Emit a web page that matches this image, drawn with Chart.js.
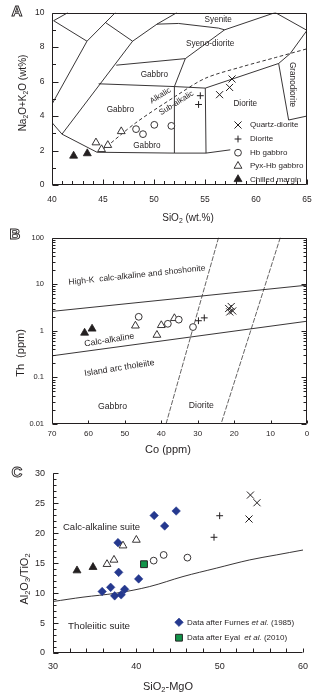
<!DOCTYPE html>
<html>
<head>
<meta charset="utf-8">
<script src="https://cdn.jsdelivr.net/npm/chart.js@4.4.0/dist/chart.umd.min.js"></script>
<style>
  html, body { margin: 0; padding: 0; background: #fff; }
  body { width: 336px; height: 695px; position: relative; overflow: hidden; }
  canvas { position: absolute; left: 0; }
  #cA { top: 0; }
  #cB { top: 225px; }
  #cC { top: 460px; }
</style>
</head>
<body>
<canvas id="cA" width="336" height="225"></canvas>
<canvas id="cB" width="336" height="235"></canvas>
<canvas id="cC" width="336" height="235"></canvas>
<script>
// ---------- A: SiO2 vs Na2O+K2O ----------
const aTicksX = [40, 45, 50, 55, 60, 65];
const aTicksY = [0, 2, 4, 6, 8, 10];
const aQtzDioX = [57.65, 57.41, 56.43];
const aQtzDioY = [6.15, 5.66, 5.24];
const aDioX = [54.54, 54.37];
const aDioY = [5.18, 4.67];
const aHbGabX = [48.24, 48.92, 50.03, 51.7];
const aHbGabY = [3.24, 2.95, 3.49, 3.43];
const aPyxX = [44.31, 45.47, 44.86, 46.79];
const aPyxY = [2.46, 2.31, 2.07, 3.11];
const aChillX = [42.12, 43.46];
const aChillY = [1.69, 1.83];
// field boundaries (SiO2, alkalis)
const aFieldLines = [
  [[41.57, 10], [40.16, 9.53], [43.43, 8.34], [40, 4.69]],
  [[46.21, 10], [43.43, 8.34]],
  [[45.23, 9.43], [47.9, 8.34], [40.98, 2.95]],
  [[40, 3.62], [40.98, 2.95], [44.41, 1.9], [52.0, 1.85], [55.1, 1.85], [57.48, 2.04]],
  [[47.9, 8.34], [50.29, 9.33], [52.25, 10]],
  [[50.29, 9.33], [52.41, 9.37], [56.33, 9.1], [56.92, 9.0]],
  [[46.3, 6.95], [53.07, 7.33], [56.92, 9.0], [61.89, 10]],
  [[61.89, 10], [65, 8.97]],
  [[65, 8.97], [63.35, 7.62], [62.22, 7.05]],
  [[44.57, 5.87], [52.0, 5.71], [55.03, 5.62], [62.22, 7.05]],
  [[52.0, 1.85], [52.0, 5.71], [53.07, 7.33]],
  [[55.1, 1.85], [55.03, 5.62]],
  [[62.22, 7.05], [63.2, 3.77], [65, 4.0]]
];
const aAlkalicLine = [[44.9, 2.0], [48.2, 3.6], [52.09, 5.14], [55.03, 6.19], [58.63, 6.86], [61.89, 7.39], [65, 7.9]];

// ---------- B: Co vs Th ----------
const bTicksX = [70, 60, 50, 40, 30, 20, 10, 0];
const bTicksY = [0.01, 0.1, 1, 10, 100];
const bQtzDioCo = [21.5, 20.8, 20.4, 21.2];
const bQtzDioTh = [3.0, 3.31, 2.66, 2.53];
const bDioCo = [29.8, 28.2];
const bDioTh = [1.64, 1.89];
const bHbGabCo = [46.2, 38.2, 35.2, 31.3];
const bHbGabTh = [1.99, 1.41, 1.73, 1.2];
const bPyxCo = [47.1, 41.2, 40.0, 36.4];
const bPyxTh = [1.28, 0.81, 1.31, 1.85];
const bChillCo = [61.05, 59.0];
const bChillTh = [0.9, 1.1];
const bSeriesLines = [[[70, 2.6], [0, 9.5]], [[70, 0.29], [0, 1.6]]];
const bRockLines = [[[24.27, 100], [38.7, 0.01]], [[7.33, 100], [23.6, 0.01]]];

// ---------- C: SiO2-MgO vs Al2O3/TiO2 ----------
const cTicksX = [30, 40, 50, 60];
const cTicksY = [0, 5, 10, 15, 20, 25, 30];
const cFurnesX = [37.8, 42.14, 44.78, 43.4, 37.88, 40.28, 35.9, 36.92, 37.4, 38.18, 38.6];
const cFurnesY = [18.43, 22.97, 23.72, 21.22, 13.47, 12.38, 10.27, 10.97, 9.55, 9.72, 10.63];
const cEyalX = [40.92];
const cEyalY = [14.83];
const cChillX = [32.88, 34.8];
const cChillY = [13.77, 14.33];
const cPyxX = [36.48, 37.32, 38.4, 40.0];
const cPyxY = [14.83, 15.55, 17.93, 18.88];
const cHbGabX = [42.08, 43.28, 46.13];
const cHbGabY = [15.43, 16.38, 15.93];
const cDioX = [49.32, 50.0];
const cDioY = [19.33, 22.93];
const cQtzDioX = [53.69, 54.48, 53.52];
const cQtzDioY = [26.38, 25.1, 22.38];
const cBoundaryX = [30, 33.6, 37.6, 41.6, 45.6, 49.6, 53.6, 56.8, 60];
const cBoundaryY = [8.6, 9.33, 10.0, 11.1, 12.77, 14.17, 15.55, 16.38, 17.2];

// ---------- look ----------
const FONT = '"Liberation Sans", Arial, sans-serif';
const INK = '#231f20';
Chart.defaults.font.family = FONT;
Chart.defaults.color = INK;

const mkQtzDio = { pointStyle: 'crossRot', radius: 5, stroke: INK, fill: INK, bw: 1 };
const mkDio = { pointStyle: 'cross', radius: 3.4, stroke: INK, fill: INK, bw: 1 };
const mkHbGab = { pointStyle: 'circle', radius: 3.4, stroke: INK, fill: '#fff', bw: 0.9 };
const mkPyx = { pointStyle: 'triangle', radius: 4.5, stroke: INK, fill: '#fff', bw: 0.9 };
const mkChill = { pointStyle: 'triangle', radius: 4.6, stroke: INK, fill: INK, bw: 0.8 };
const mkFurnes = { pointStyle: 'rectRot', radius: 4.3, stroke: '#22358a', fill: '#25398f', bw: 0.5 };
const mkEyal = { pointStyle: 'rect', radius: 4.8, stroke: INK, fill: '#129449', bw: 1 };

const pts = (xs, ys) => xs.map((x, i) => ({ x, y: ys[i] }));
const range = (a, b, s) => { const r = []; for (let v = a; v <= b + 1e-9; v += s) r.push(+v.toFixed(4)); return r; };

function markers(xs, ys, mk) {
  return {
    data: pts(xs, ys), showLine: false, order: 0,
    pointStyle: mk.pointStyle, pointRadius: mk.radius, pointHoverRadius: mk.radius,
    pointBorderColor: mk.stroke, pointBackgroundColor: mk.fill, pointBorderWidth: mk.bw
  };
}
function boundary(line, extra) {
  return Object.assign({
    data: line.map(([x, y]) => ({ x, y })), showLine: true, order: 10,
    pointRadius: 0, borderColor: INK, borderWidth: 0.9, fill: false, tension: 0
  }, extra || {});
}

function axis(min, max, ticks, size, pad, fitKey, fitVal, extra) {
  return Object.assign({
    type: 'linear', min, max,
    afterBuildTicks: s => { s.ticks = ticks.map(v => ({ value: v })); },
    afterFit: s => { s[fitKey] = fitVal; },
    grid: { display: false, drawTicks: false },
    border: { display: false },
    ticks: { padding: pad, font: { size }, color: INK, autoSkip: false, maxRotation: 0, callback: v => String(v) }
  }, extra || {});
}

function drawRich(ctx, parts, x, y, size, align, rot) {
  if (typeof parts === 'string') parts = [[parts, '']];
  const fontOf = k => (k === 'it' ? 'italic ' : '') + (k === 'sub' ? size * 0.68 : size) + 'px ' + FONT;
  let total = 0;
  parts.forEach(p => { ctx.font = fontOf(p[1]); total += ctx.measureText(p[0]).width; });
  ctx.save();
  ctx.translate(x, y);
  ctx.rotate((rot || 0) * Math.PI / 180);
  ctx.fillStyle = INK;
  ctx.textBaseline = 'middle';
  ctx.textAlign = 'left';
  let cx = align === 'left' ? 0 : align === 'right' ? -total : -total / 2;
  parts.forEach(p => {
    ctx.font = fontOf(p[1]);
    ctx.fillText(p[0], cx, p[1] === 'sub' ? size * 0.3 : 0);
    cx += ctx.measureText(p[0]).width;
  });
  ctx.restore();
}

// frame, inward ticks, field names, titles, panel letter, legend
const decor = {
  id: 'decor',
  beforeDatasetsDraw(chart, args, o) {
    const { ctx, scales: { x, y } } = chart;
    (o.labels || []).forEach(l => {
      drawRich(ctx, l.text, x.getPixelForValue(l.x), y.getPixelForValue(l.y), l.size, l.align, l.rot);
    });
  },
  afterDraw(chart, args, o) {
    const { ctx, chartArea: a } = chart;
    ctx.save();
    ctx.strokeStyle = INK;
    ctx.lineWidth = 1;
    const L = Math.round(a.left) + 0.5, R = Math.round(a.right) - 0.5;
    const T = Math.round(a.top) + 0.5, B = Math.round(a.bottom) - 0.5;
    ctx.beginPath();
    if (o.box) {
      ctx.rect(L, T, R - L, B - T);
    } else {
      ctx.moveTo(L, T); ctx.lineTo(L, B); ctx.lineTo(R, B);
    }
    ctx.stroke();
    (o.ticks || []).forEach(t => {
      const s = chart.scales[t.axis];
      ctx.beginPath();
      t.values.forEach(v => {
        const p = Math.round(s.getPixelForValue(v)) + 0.5;
        if (t.side === 'left') { ctx.moveTo(L, p); ctx.lineTo(L + t.len, p); }
        if (t.side === 'right') { ctx.moveTo(R, p); ctx.lineTo(R - t.len, p); }
        if (t.side === 'bottom') { ctx.moveTo(p, B); ctx.lineTo(p, B - t.len); }
      });
      ctx.stroke();
    });
    (o.titles || []).forEach(t => drawRich(ctx, t.text, t.px, t.py, t.size, 'center', t.rot));
    if (o.letter) {
      ctx.font = 'bold 15px ' + FONT;
      ctx.textAlign = 'center';
      ctx.textBaseline = 'middle';
      ctx.lineWidth = 0.9;
      ctx.strokeText(o.letter.text, o.letter.px, o.letter.py);
    }
    if (o.legend) {
      o.legend.rows.forEach(r => {
        ctx.fillStyle = r.mk.fill;
        ctx.strokeStyle = r.mk.stroke;
        ctx.lineWidth = r.mk.bw;
        Chart.helpers.drawPoint(ctx, { pointStyle: r.mk.pointStyle, radius: r.mk.radius, borderWidth: r.mk.bw, rotation: 0 }, o.legend.mx, r.y);
        drawRich(ctx, r.text, o.legend.tx, r.y, o.legend.size, 'left', 0);
      });
    }
    ctx.restore();
  }
};

const common = {
  responsive: false,
  animation: false,
  events: []
};

// ---------- chart A ----------
new Chart(document.getElementById('cA'), {
  type: 'scatter',
  data: {
    datasets: [
      markers(aQtzDioX, aQtzDioY, mkQtzDio),
      markers(aDioX, aDioY, mkDio),
      markers(aHbGabX, aHbGabY, mkHbGab),
      markers(aPyxX, aPyxY, mkPyx),
      markers(aChillX, aChillY, mkChill),
      ...aFieldLines.map(l => boundary(l)),
      boundary(aAlkalicLine, { borderDash: [3.5, 2.5], tension: 0.3 })
    ]
  },
  options: Object.assign({}, common, {
    layout: { padding: { left: 0, right: 29, top: 10, bottom: 0 } },
    scales: {
      x: axis(40, 65, aTicksX, 8.5, 10, 'height', 40),
      y: axis(0, 10, aTicksY, 8.5, 7.5, 'width', 52)
    },
    plugins: {
      legend: { display: false },
      tooltip: { enabled: false },
      decor: {
        box: true,
        ticks: [
          { axis: 'y', side: 'left', values: range(0, 10, 2), len: 6 },
          { axis: 'y', side: 'left', values: range(1, 9, 2), len: 3.5 },
          { axis: 'x', side: 'bottom', values: range(40, 65, 1), len: 3.5 },
          { axis: 'x', side: 'bottom', values: range(40, 65, 5), len: 5 }
        ],
        labels: [
          { text: 'Syenite', x: 56.3, y: 9.6, size: 8.2 },
          { text: 'Syeno-diorite', x: 55.5, y: 8.17, size: 8.2 },
          { text: 'Gabbro', x: 50.03, y: 6.4, size: 8.2 },
          { text: 'Gabbro', x: 46.7, y: 4.34, size: 8.2 },
          { text: 'Gabbro', x: 49.3, y: 2.29, size: 8.2 },
          { text: 'Diorite', x: 58.95, y: 4.74, size: 8.2 },
          { text: 'Granodiorite', x: 63.6, y: 5.83, size: 8.2, rot: 90 },
          { text: 'Alkalic', x: 50.62, y: 5.18, size: 8, rot: -32 },
          { text: 'Sub-alkalic', x: 52.19, y: 4.75, size: 8, rot: -32 }
        ],
        titles: [
          { text: [['SiO', ''], ['2', 'sub'], [' (wt.%)', '']], px: 188, py: 218, size: 10 },
          { text: [['Na', ''], ['2', 'sub'], ['O+K', ''], ['2', 'sub'], ['O (wt%)', '']], px: 23, py: 93, size: 10, rot: -90 }
        ],
        letter: { text: 'A', px: 17, py: 12 },
        legend: {
          mx: 238, tx: 250, size: 8,
          rows: [
            { mk: mkQtzDio, text: 'Quartz-diorite', y: 125 },
            { mk: mkDio, text: 'Diorite', y: 139 },
            { mk: mkHbGab, text: 'Hb gabbro', y: 152.7 },
            { mk: mkPyx, text: 'Pyx-Hb gabbro', y: 166 },
            { mk: mkChill, text: 'Chilled margin', y: 179.3 }
          ]
        }
      }
    }
  }),
  plugins: [decor]
});

// ---------- chart B ----------
const logMinor = [];
[0.01, 0.1, 1, 10].forEach(d => { for (let m = 2; m <= 9; m++) logMinor.push(+(m * d).toPrecision(3)); });

new Chart(document.getElementById('cB'), {
  type: 'scatter',
  data: {
    datasets: [
      markers(bQtzDioCo, bQtzDioTh, mkQtzDio),
      markers(bDioCo, bDioTh, mkDio),
      markers(bHbGabCo, bHbGabTh, mkHbGab),
      markers(bPyxCo, bPyxTh, mkPyx),
      markers(bChillCo, bChillTh, mkChill),
      ...bSeriesLines.map(l => boundary(l)),
      ...bRockLines.map(l => boundary(l, { borderWidth: 0.7, borderDash: [5, 1.5] }))
    ]
  },
  options: Object.assign({}, common, {
    layout: { padding: { left: 0, right: 29, top: 10, bottom: 0 } },
    scales: {
      x: axis(0, 70, bTicksX, 8, 5, 'height', 36, { reverse: true }),
      y: axis(0.01, 100, bTicksY, 7.5, 8, 'width', 52, { type: 'logarithmic' })
    },
    plugins: {
      legend: { display: false },
      tooltip: { enabled: false },
      decor: {
        box: true,
        ticks: [
          { axis: 'y', side: 'left', values: bTicksY, len: 5 },
          { axis: 'y', side: 'left', values: logMinor, len: 3 },
          { axis: 'y', side: 'right', values: bTicksY, len: 5 },
          { axis: 'y', side: 'right', values: logMinor, len: 3 },
          { axis: 'x', side: 'bottom', values: bTicksX, len: 3 }
        ],
        labels: [
          { text: 'High-K  calc-alkaline and shoshonite', x: 46.67, y: 15.5, size: 8.5, rot: -6 },
          { text: 'Calc-alkaline', x: 54.27, y: 0.63, size: 8.8, rot: -9 },
          { text: 'Island arc tholeiite', x: 51.5, y: 0.158, size: 8.8, rot: -9 },
          { text: 'Gabbro', x: 53.4, y: 0.0234, size: 8.7 },
          { text: 'Diorite', x: 29, y: 0.0243, size: 8.7 }
        ],
        titles: [
          { text: 'Co (ppm)', px: 168, py: 225, size: 11 },
          { text: 'Th  (ppm)', px: 21, py: 128, size: 11, rot: -90 }
        ],
        letter: { text: 'B', px: 15, py: 10 }
      }
    }
  }),
  plugins: [decor]
});

// ---------- chart C ----------
new Chart(document.getElementById('cC'), {
  type: 'scatter',
  data: {
    datasets: [
      markers(cQtzDioX, cQtzDioY, mkQtzDio),
      markers(cDioX, cDioY, mkDio),
      markers(cHbGabX, cHbGabY, mkHbGab),
      markers(cPyxX, cPyxY, mkPyx),
      markers(cChillX, cChillY, mkChill),
      markers(cFurnesX, cFurnesY, mkFurnes),
      markers(cEyalX, cEyalY, mkEyal),
      boundary(cBoundaryX.map((x, i) => [x, cBoundaryY[i]]), { tension: 0.35 })
    ]
  },
  options: Object.assign({}, common, {
    layout: { padding: { left: 0, right: 33, top: 13, bottom: 0 } },
    scales: {
      x: axis(30, 60, cTicksX, 9, 8, 'height', 42),
      y: axis(0, 30, cTicksY, 9, 8, 'width', 53)
    },
    plugins: {
      legend: { display: false },
      tooltip: { enabled: false },
      decor: {
        box: false,
        ticks: [
          { axis: 'y', side: 'left', values: cTicksY, len: 5 },
          { axis: 'y', side: 'left', values: range(0, 30, 1), len: 3 },
          { axis: 'x', side: 'bottom', values: range(30, 60, 2), len: 4 }
        ],
        labels: [
          { text: 'Calc-alkaline suite', x: 31.2, y: 21.0, size: 9.5, align: 'left' },
          { text: 'Tholeiitic suite', x: 31.8, y: 4.43, size: 9.8, align: 'left' }
        ],
        titles: [
          { text: [['SiO', ''], ['2', 'sub'], ['-MgO', '']], px: 168, py: 227, size: 11 },
          { text: [['Al', ''], ['2', 'sub'], ['O', ''], ['3', 'sub'], ['/TiO', ''], ['2', 'sub']], px: 25, py: 119, size: 11, rot: -90 }
        ],
        letter: { text: 'C', px: 17, py: 13 },
        legend: {
          mx: 179, tx: 187, size: 8,
          rows: [
            { mk: mkFurnes, text: [['Data after Furnes ', ''], ['et al.', 'it'], [' (1985)', '']], y: 162.3 },
            { mk: mkEyal, text: [['Data after Eyal  ', ''], ['et al.', 'it'], [' (2010)', '']], y: 177.7 }
          ]
        }
      }
    }
  }),
  plugins: [decor]
});
</script>
</body>
</html>
